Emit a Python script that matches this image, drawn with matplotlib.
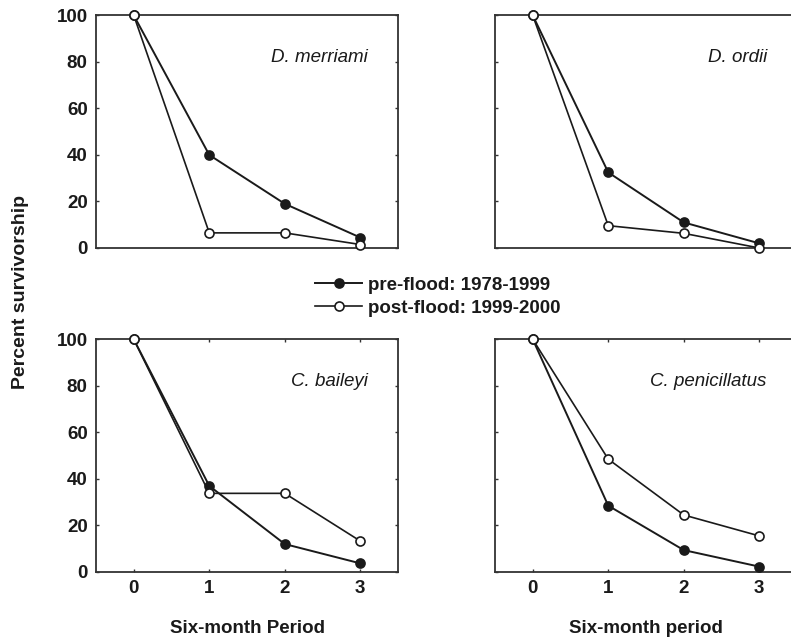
import matplotlib
matplotlib.use("Agg")
import matplotlib.pyplot as plt

plt.rcParams['font.family'] = ['Liberation Sans', 'DejaVu Sans']

periods = [0, 1, 2, 3]
species = ["D. merriami", "D. ordii", "C. baileyi", "C. penicillatus"]

# percent survivorship per six-month period
pre_flood = {
    "D. merriami": [100, 40, 19, 4.5],
    "D. ordii": [100, 32.5, 11, 2],
    "C. baileyi": [100, 37, 12, 3.7],
    "C. penicillatus": [100, 28.5, 9.4, 2.3],
}
post_flood = {
    "D. merriami": [100, 6.5, 6.5, 1.5],
    "D. ordii": [100, 9.6, 6.3, 0],
    "C. baileyi": [100, 33.8, 33.8, 13.3],
    "C. penicillatus": [100, 48.5, 24.5, 15.5],
}
xlabels = ["Six-month Period", "Six-month period"]
legend_labels = ["pre-flood: 1978-1999", "post-flood: 1999-2000"]

ink = "#1a1a1a"
fig = plt.figure(figsize=(7.91, 6.39), dpi=100)

lefts = [0.1214, 0.6258]
bottoms = [0.6119, 0.1049]
w, h = 0.3818, 0.3640

for i, sp in enumerate(species):
    row, col = divmod(i, 2)
    ax = fig.add_axes([lefts[col], bottoms[row], w, h])
    l1, = ax.plot(periods, pre_flood[sp], '-o', color=ink, lw=1.4,
                  markersize=6.5, markerfacecolor=ink, markeredgecolor=ink,
                  markeredgewidth=1.2, clip_on=False, zorder=3)
    l2, = ax.plot(periods, post_flood[sp], '-o', color=ink, lw=1.2,
                  markersize=6.5, markerfacecolor='white', markeredgecolor=ink,
                  markeredgewidth=1.2, clip_on=False, zorder=4)
    ax.set_xlim(-0.5, 3.5)
    ax.set_ylim(0, 100)
    ax.set_yticks([0, 20, 40, 60, 80, 100])
    ax.set_xticks(periods)
    for s in ax.spines.values():
        s.set_linewidth(1.3)
        s.set_color("#333333")
    ax.tick_params(direction='in', length=2.5, width=1, color="#333333",
                   left=True, right=True, top=(row == 1), bottom=(row == 1),
                   labelsize=13.5, labelcolor=ink, pad=6)
    if col == 1:
        ax.set_yticklabels([])
    else:
        for t in ax.get_yticklabels():
            t.set_fontweight('bold')
    if row == 0:
        ax.set_xticklabels([])
    else:
        for t in ax.get_xticklabels():
            t.set_fontweight('bold')
        ax.set_xlabel(xlabels[col], fontsize=13.5, fontweight='bold', color=ink,
                      labelpad=16)
    ax.text(3.1, 82, sp, ha='right', va='center', fontsize=13.5,
            style='italic', color=ink)

fig.text(0.026, 0.543, "Percent survivorship", rotation=90, ha='center',
         va='center', fontsize=14, fontweight='bold', color=ink)

leg = fig.legend([l1, l2], legend_labels, loc='center left',
                 bbox_to_anchor=(0.387, 0.5355), frameon=False,
                 prop={'size': 13.5, 'weight': 'bold'}, handlelength=2.5,
                 handletextpad=0.3, labelspacing=0.3, borderpad=0)
for t in leg.get_texts():
    t.set_color(ink)

fig.savefig("out.png", dpi=100)
